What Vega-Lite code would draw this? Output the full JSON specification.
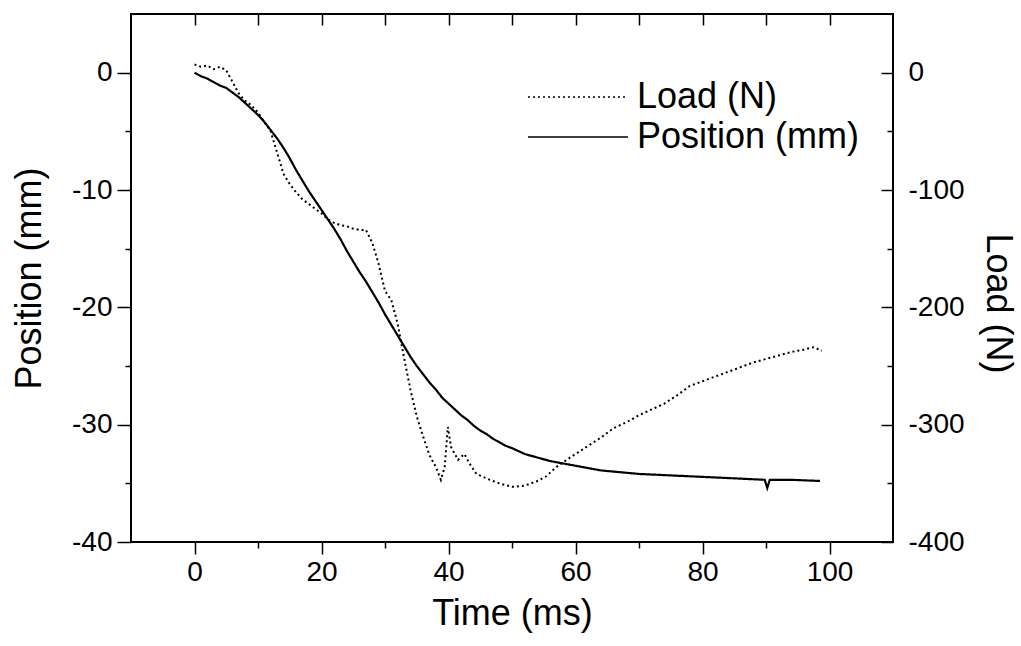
{
  "$schema": "https://vega.github.io/schema/vega-lite/v6.json",
  "width": 762,
  "height": 528,
  "autosize": {"type": "none"},
  "padding": {"left": 131, "top": 14, "right": 128, "bottom": 104},
  "background": "white",
  "config": {
    "view": {"stroke": "black", "strokeWidth": 2},
    "font": "Liberation Sans",
    "axis": {
      "grid": false, "domain": false, "tickColor": "black", "tickWidth": 1.5,
      "labelColor": "black", "titleColor": "black",
      "labelFont": "Liberation Sans", "titleFont": "Liberation Sans",
      "labelFontSize": 28, "titleFontSize": 36, "titleFontWeight": "normal"
    },
    "legend": {
      "labelFont": "Liberation Sans", "labelFontSize": 36, "labelColor": "black", "labelLimit": 400
    }
  },
  "datasets": {
    "position": [
      {"t": 0, "pos": 0.0}, {"t": 1, "pos": -0.3}, {"t": 2, "pos": -0.5}, {"t": 3, "pos": -0.8},
      {"t": 4, "pos": -1.1}, {"t": 5, "pos": -1.3}, {"t": 6, "pos": -1.7}, {"t": 7, "pos": -2.1},
      {"t": 8, "pos": -2.6}, {"t": 9, "pos": -3.1}, {"t": 10, "pos": -3.6}, {"t": 11, "pos": -4.2},
      {"t": 12, "pos": -4.9}, {"t": 13, "pos": -5.6}, {"t": 14, "pos": -6.4}, {"t": 15, "pos": -7.3},
      {"t": 16, "pos": -8.3}, {"t": 17, "pos": -9.2}, {"t": 18, "pos": -10.1}, {"t": 19, "pos": -10.9},
      {"t": 20, "pos": -11.7}, {"t": 21, "pos": -12.5}, {"t": 22, "pos": -13.3}, {"t": 23, "pos": -14.2},
      {"t": 24, "pos": -15.2}, {"t": 25, "pos": -16.1}, {"t": 26, "pos": -17.0}, {"t": 27, "pos": -17.8},
      {"t": 28, "pos": -18.7}, {"t": 29, "pos": -19.6}, {"t": 30, "pos": -20.6}, {"t": 31, "pos": -21.5},
      {"t": 32, "pos": -22.4}, {"t": 33, "pos": -23.3}, {"t": 34, "pos": -24.2}, {"t": 35, "pos": -25.0},
      {"t": 36, "pos": -25.7}, {"t": 37, "pos": -26.4}, {"t": 38, "pos": -27.0}, {"t": 39, "pos": -27.7},
      {"t": 40, "pos": -28.2}, {"t": 41, "pos": -28.7}, {"t": 42, "pos": -29.2}, {"t": 43, "pos": -29.6},
      {"t": 44, "pos": -30.1}, {"t": 45, "pos": -30.5}, {"t": 46, "pos": -30.8}, {"t": 47, "pos": -31.2},
      {"t": 48, "pos": -31.5}, {"t": 49, "pos": -31.8}, {"t": 50, "pos": -32.0}, {"t": 52, "pos": -32.5},
      {"t": 54, "pos": -32.8}, {"t": 56, "pos": -33.1}, {"t": 58, "pos": -33.3}, {"t": 60, "pos": -33.5},
      {"t": 62, "pos": -33.7}, {"t": 64, "pos": -33.9}, {"t": 66, "pos": -34.0}, {"t": 68, "pos": -34.1},
      {"t": 70, "pos": -34.2}, {"t": 74, "pos": -34.3}, {"t": 78, "pos": -34.4}, {"t": 82, "pos": -34.5},
      {"t": 86, "pos": -34.6}, {"t": 89.8, "pos": -34.7}, {"t": 90.2, "pos": -35.4}, {"t": 90.6, "pos": -34.7},
      {"t": 94, "pos": -34.7}, {"t": 98.5, "pos": -34.8}
    ],
    "load": [
      {"t": 0, "load": 7}, {"t": 1, "load": 5}, {"t": 2, "load": 6}, {"t": 3, "load": 3},
      {"t": 4, "load": 5}, {"t": 5, "load": 2}, {"t": 6, "load": -8}, {"t": 7, "load": -18},
      {"t": 8, "load": -24}, {"t": 9, "load": -28}, {"t": 10, "load": -34}, {"t": 11, "load": -42},
      {"t": 12, "load": -50}, {"t": 13, "load": -68}, {"t": 14, "load": -86}, {"t": 15, "load": -95},
      {"t": 16, "load": -102}, {"t": 17, "load": -108}, {"t": 18, "load": -112}, {"t": 19, "load": -116},
      {"t": 20, "load": -120}, {"t": 21, "load": -125}, {"t": 22, "load": -128}, {"t": 23, "load": -130},
      {"t": 24, "load": -131}, {"t": 25, "load": -133}, {"t": 26, "load": -134}, {"t": 27, "load": -134},
      {"t": 28, "load": -145}, {"t": 29, "load": -163}, {"t": 29.6, "load": -177}, {"t": 30, "load": -186},
      {"t": 31, "load": -194}, {"t": 32, "load": -214}, {"t": 33, "load": -243}, {"t": 34, "load": -270},
      {"t": 35, "load": -293}, {"t": 36, "load": -310}, {"t": 37, "load": -326}, {"t": 38, "load": -336},
      {"t": 38.8, "load": -347}, {"t": 39.4, "load": -336}, {"t": 39.9, "load": -302}, {"t": 40.4, "load": -319},
      {"t": 41.5, "load": -330}, {"t": 42.5, "load": -325}, {"t": 43.3, "load": -333}, {"t": 44.4, "load": -342},
      {"t": 46.5, "load": -347}, {"t": 48, "load": -350}, {"t": 50, "load": -353}, {"t": 52, "load": -352},
      {"t": 54, "load": -348}, {"t": 55.4, "load": -344}, {"t": 57, "load": -336}, {"t": 58.6, "load": -330},
      {"t": 60, "load": -325}, {"t": 62, "load": -318}, {"t": 64, "load": -311}, {"t": 66, "load": -303},
      {"t": 68, "load": -298}, {"t": 70, "load": -292}, {"t": 72, "load": -287}, {"t": 74, "load": -282},
      {"t": 76, "load": -275}, {"t": 78, "load": -267}, {"t": 80, "load": -263}, {"t": 82, "load": -259},
      {"t": 84, "load": -255}, {"t": 86, "load": -251}, {"t": 88, "load": -247}, {"t": 90, "load": -244},
      {"t": 92, "load": -241}, {"t": 94, "load": -238}, {"t": 96, "load": -236}, {"t": 97.5, "load": -234},
      {"t": 98.8, "load": -237}
    ]
  },
  "layer": [
    {
      "data": {"name": "position"},
      "mark": {"type": "line", "color": "black", "strokeWidth": 2.2},
      "encoding": {
        "x": {"field": "t", "type": "quantitative",
          "scale": {"domain": [-10, 110], "nice": false, "zero": false},
          "axis": {"orient": "bottom", "values": [0, 20, 40, 60, 80, 100], "tickSize": 12, "labelPadding": 4,
            "labelExpr": "replace(datum.label, '−', '-')",
            "title": "Time (ms)", "titlePadding": 10}},
        "y": {"field": "pos", "type": "quantitative",
          "scale": {"domain": [-40, 5], "nice": false, "zero": false},
          "axis": {"orient": "left", "values": [0, -10, -20, -30, -40], "tickSize": 14, "labelPadding": 5,
            "labelExpr": "replace(datum.label, '−', '-')",
            "title": "Position (mm)", "titlePadding": 23}},
        "strokeDash": {"datum": "Position (mm)", "type": "nominal",
          "scale": {"domain": ["Load (N)", "Position (mm)"], "range": [[2, 3], [1, 0]]},
          "legend": {"title": null, "orient": "none", "legendX": 479, "legendY": 65,
            "symbolType": "M-10,0H0", "symbolSize": 400, "symbolStrokeWidth": 1.5,
            "symbolStrokeColor": "black", "labelOffset": -9, "rowPadding": 4}}
      }
    },
    {
      "data": {"name": "load"},
      "mark": {"type": "line", "color": "black", "strokeWidth": 2},
      "encoding": {
        "x": {"field": "t", "type": "quantitative",
          "axis": {"orient": "top", "values": [0, 10, 20, 30, 40, 50, 60, 70, 80, 90, 100], "tickSize": -11,
            "labels": false, "title": null}},
        "y": {"field": "load", "type": "quantitative",
          "scale": {"domain": [-400, 50], "nice": false, "zero": false},
          "axis": {"orient": "right", "values": [0, -100, -200, -300, -400], "tickSize": -12, "labelPadding": 27,
            "labelExpr": "replace(datum.label, '−', '-')",
            "title": "Load (N)", "titleAngle": 90, "titlePadding": 14, "titleY": 289}},
        "strokeDash": {"datum": "Load (N)", "type": "nominal"}
      }
    },
    {
      "data": {"name": "position"},
      "mark": {"type": "line", "opacity": 0},
      "encoding": {
        "x": {"field": "t", "type": "quantitative",
          "axis": {"orient": "bottom", "values": [10, 30, 50, 70, 90], "tickSize": 6, "labels": false, "title": null}},
        "y": {"field": "pos", "type": "quantitative",
          "scale": {"domain": [-40, 5], "nice": false, "zero": false},
          "axis": {"orient": "left", "values": [-5, -15, -25, -35], "tickSize": 6, "labels": false, "title": null}}
      }
    },
    {
      "data": {"name": "load"},
      "mark": {"type": "line", "opacity": 0},
      "encoding": {
        "x": {"field": "t", "type": "quantitative", "axis": null},
        "y": {"field": "load", "type": "quantitative",
          "scale": {"domain": [-400, 50], "nice": false, "zero": false},
          "axis": {"orient": "right", "values": [-50, -150, -250, -350], "tickSize": -6, "labels": false, "title": null}}
      }
    }
  ],
  "resolve": {"scale": {"y": "independent"}, "axis": {"x": "independent", "y": "independent"}}
}
